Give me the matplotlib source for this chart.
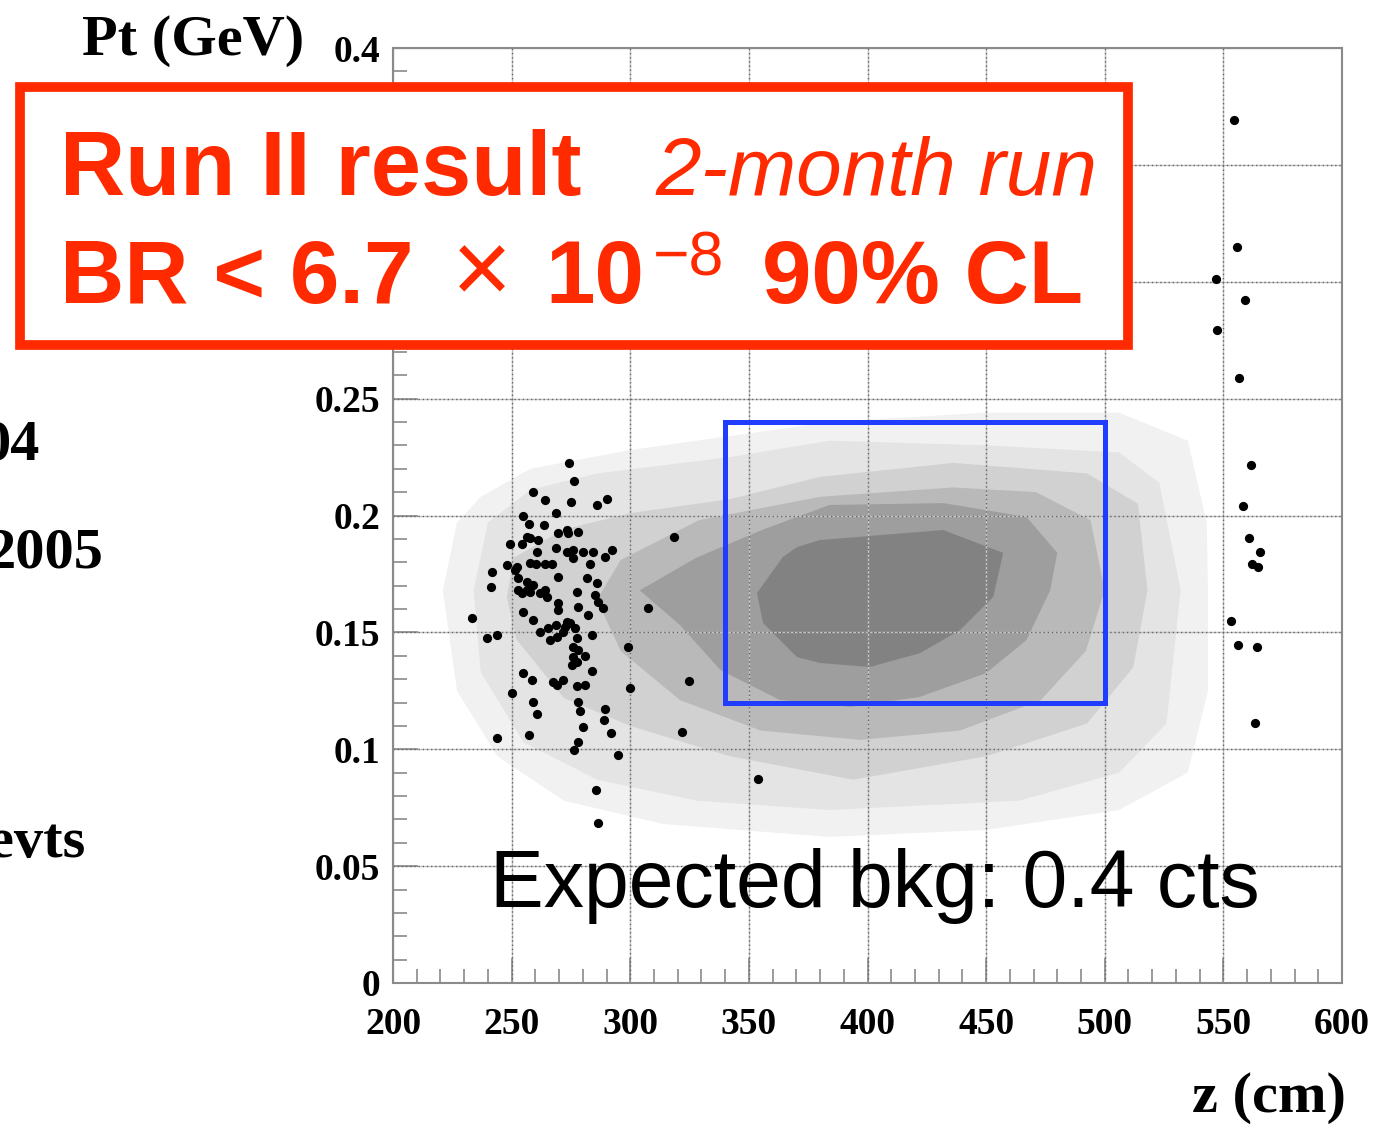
import matplotlib.pyplot as plt
from matplotlib.patches import Rectangle
from matplotlib.ticker import MultipleLocator

# ---- signal MC contours (outer -> inner) ----
shade_colors = ['#f1f1f1', '#e4e4e4', '#d1d1d1', '#b9b9b9', '#9e9e9e', '#828282']

c1_z = [221, 227, 237, 258, 300, 384, 450, 506, 535, 543, 543.5, 543.5, 535, 506, 450, 384, 314, 272, 244, 227]
c1_pt = [0.168, 0.197, 0.208, 0.220, 0.228, 0.240, 0.244, 0.244, 0.232, 0.197, 0.168, 0.125,
         0.090, 0.074, 0.0655, 0.0625, 0.068, 0.078, 0.097, 0.125]

c2_z = [234, 240, 258, 286, 342, 384, 450, 506, 523, 532, 526, 506, 464, 384, 328, 286, 255, 237]
c2_pt = [0.168, 0.197, 0.211, 0.218, 0.225, 0.232, 0.230, 0.227, 0.214, 0.168, 0.111, 0.090,
         0.078, 0.074, 0.078, 0.087, 0.103, 0.133]

c3_z = [248, 251, 272, 300, 342, 380, 436, 492.5, 514, 518, 512, 492.5, 450, 394, 342, 300, 272, 252]
c3_pt = [0.165, 0.182, 0.194, 0.201, 0.207, 0.2165, 0.2225, 0.218, 0.205, 0.168, 0.135, 0.111,
         0.097, 0.087, 0.097, 0.110, 0.122, 0.147]

c4_z = [286, 296, 329, 380, 436, 471, 494, 500, 492, 473, 439, 397, 355, 321, 296]
c4_pt = [0.164, 0.181, 0.198, 0.208, 0.212, 0.210, 0.198, 0.168, 0.142, 0.121, 0.108, 0.104,
         0.108, 0.121, 0.142]

c5_z = [304, 328, 356, 384, 432, 467, 480, 477, 467, 450, 422, 393, 363, 338, 321]
c5_pt = [0.168, 0.182, 0.194, 0.2045, 0.2053, 0.1994, 0.184, 0.168, 0.1467, 0.1326, 0.1224,
         0.1181, 0.1211, 0.1339, 0.1531]

c6_z = [353.4, 364.3, 370.3, 380, 431.9, 457.2, 453, 439, 422.1, 401, 380, 370.3, 356]
c6_pt = [0.1668, 0.1822, 0.1865, 0.1895, 0.1938, 0.184, 0.1652, 0.151, 0.1411, 0.1352,
         0.1369, 0.1394, 0.154]

# ---- data events ----
evt_z = [274.3, 276.4, 259.2, 264.1, 274.9, 286.1, 290.1, 268.7, 254.7, 257.3, 263.7, 269.7,
         273.2, 278.1, 249.3, 254.2, 257.7, 261.3, 260.6, 268.7, 273.2, 276.0, 280.2, 284.4,
         292.2, 289.4, 276.0, 283.0, 247.9, 252.1, 260.3, 264.1, 266.9, 241.6, 241.3, 252.8,
         256.3, 259.2, 269.7, 252.8, 257.7, 262.0, 264.8, 281.6, 285.9, 277.4, 285.1, 286.6,
         288.7, 269.7, 269.7, 278.1, 282.3, 233.2, 254.9, 259.2, 262.0, 265.5, 268.7, 272.5,
         274.6, 276.7, 266.2, 269.0, 239.5, 243.7, 284.0, 299.2, 276.0, 276.0, 280.9, 277.4,
         275.3, 254.9, 258.5, 267.6, 271.8, 269.0, 277.4, 280.9, 284.0, 299.9, 250.0, 259.2,
         260.6, 278.1, 278.8, 289.4, 289.0, 291.8, 280.2, 243.7, 257.5, 278.1, 276.3, 294.7,
         285.4, 286.3, 307.6, 318.4, 324.8, 322.0, 353.7,
         254.2, 256.3, 264.1, 273.2, 271.8, 277.4, 278.1, 251.4, 257.7, 273.9, 256.3,
         554.5, 555.9, 546.9, 559.0, 547.5, 556.5, 561.5, 558.3, 561.0, 565.5, 562.2, 564.5,
         553.2, 556.0, 564.3, 563.5]
evt_pt = [0.2223, 0.2149, 0.2102, 0.2066, 0.2056, 0.2045, 0.2069, 0.2009, 0.1998, 0.1962,
          0.1961, 0.1927, 0.1938, 0.1931, 0.1877, 0.1878, 0.1902, 0.1895, 0.1843, 0.1860,
          0.1845, 0.1853, 0.1843, 0.1843, 0.1853, 0.1824, 0.1817, 0.1793, 0.1788, 0.1781,
          0.1793, 0.1793, 0.1793, 0.1760, 0.1696, 0.1731, 0.1717, 0.1703, 0.1738, 0.1681,
          0.1674, 0.1667, 0.1653, 0.1731, 0.1713, 0.1674, 0.1660, 0.1631, 0.1603, 0.1624,
          0.1596, 0.1610, 0.1574, 0.1560, 0.1589, 0.1553, 0.1503, 0.1517, 0.1532, 0.1525,
          0.1539, 0.1517, 0.1467, 0.1482, 0.1475, 0.1489, 0.1489, 0.1439, 0.1439, 0.1396,
          0.1399, 0.1375, 0.1361, 0.1328, 0.1296, 0.1289, 0.1296, 0.1275, 0.1271, 0.1275,
          0.1335, 0.1261, 0.1242, 0.1204, 0.1151, 0.1204, 0.1165, 0.1171, 0.1125, 0.1068,
          0.1097, 0.1050, 0.1061, 0.1033, 0.0997, 0.0976, 0.0826, 0.0686, 0.1603, 0.1910,
          0.1293, 0.1073, 0.0873,
          0.1667, 0.1681, 0.1681, 0.1546, 0.1503, 0.1475, 0.1425, 0.1767, 0.1796, 0.1924, 0.1910,
          0.3693, 0.3148, 0.3011, 0.2920, 0.2795, 0.2589, 0.2218, 0.2039, 0.1905, 0.1845,
          0.1791, 0.1780, 0.1550, 0.1446, 0.1437, 0.1113]

# signal box
box_z = [340, 500]
box_pt = [0.12, 0.24]

xticks = [200, 250, 300, 350, 400, 450, 500, 550, 600]
yticks = [0, 0.05, 0.1, 0.15, 0.2, 0.25, 0.3, 0.35, 0.4]
# 0.3 and 0.35 sit under the red result box in the original
ytick_labels = ['0', '0.05', '0.1', '0.15', '0.2', '0.25', '', '', '0.4']

W, H = 1385, 1124
fig = plt.figure(figsize=(W / 100, H / 100), dpi=100)
ax = fig.add_axes([393 / W, 1 - 983 / H, (1342 - 393) / W, (983 - 48) / H])

contours = [(c1_z, c1_pt), (c2_z, c2_pt), (c3_z, c3_pt), (c4_z, c4_pt), (c5_z, c5_pt), (c6_z, c6_pt)]
for (cz, cp), col in zip(contours, shade_colors):
    ax.fill(cz, cp, color=col, lw=0, zorder=1)

ax.scatter(evt_z, evt_pt, s=44, c='black', lw=0, zorder=4)

ax.add_patch(Rectangle((box_z[0], box_pt[0]), box_z[1] - box_z[0], box_pt[1] - box_pt[0],
                       fill=False, edgecolor='#1f3cff', lw=3.6, zorder=5))

ax.set_xlim(200, 600)
ax.set_ylim(0, 0.4)
ax.set_xticks(xticks)
ax.set_xticklabels([str(t) for t in xticks])
ax.set_yticks(yticks)
ax.set_yticklabels(ytick_labels)
ax.xaxis.set_minor_locator(MultipleLocator(10))
ax.yaxis.set_minor_locator(MultipleLocator(0.01))

ax.grid(True, which='major', color='#c4c4c4', lw=1.0, zorder=1.5)
for t in xticks[1:-1]:
    ax.axvline(t, color='#666666', lw=1.0, ls=(0, (1, 2)), zorder=1.6)
for t in yticks[1:-1]:
    ax.axhline(t, color='#666666', lw=1.0, ls=(0, (1, 2)), zorder=1.6)

for sp in ax.spines.values():
    sp.set_color('#8a8a8a')
    sp.set_linewidth(1.5)
ax.tick_params(which='both', direction='in', color='#8a8a8a', width=1.2)
ax.tick_params(which='major', length=18)
ax.tick_params(which='minor', length=10)
ax.tick_params(axis='x', pad=17)
ax.tick_params(axis='y', pad=9)
for lab in ax.get_xticklabels() + ax.get_yticklabels():
    lab.set_fontfamily('Liberation Serif')
    lab.set_fontweight('bold')
    lab.set_fontsize(27)

serif = dict(family='Liberation Serif', weight='bold', fontsize=42, color='black')
fig.text(82 / W, 1 - 55 / H, 'Pt (GeV)', ha='left', va='baseline', **serif)
fig.text(1192 / W, 1 - 1112 / H, 'z (cm)', ha='left', va='baseline', **serif)
# slide text that is cut by the left edge of the picture
fig.text(40 / W, 1 - 460 / H, '04', ha='right', va='baseline', **serif)
fig.text(103 / W, 1 - 567 / H, '2005', ha='right', va='baseline', **serif)
fig.text(85 / W, 1 - 857 / H, 'evts', ha='right', va='baseline', **serif)

# red result box
red = '#ff2a00'
sans = 'Liberation Sans'
fig.add_artist(Rectangle((20 / W, 1 - 345 / H), (1128 - 20) / W, (345 - 87) / H,
                         transform=fig.transFigure, facecolor='white', edgecolor=red,
                         lw=7, zorder=10))
red_txt = dict(family=sans, color=red, ha='left', va='baseline', zorder=11)
fig.text(60 / W, 1 - 195 / H, 'Run II result', weight='bold', fontsize=65, **red_txt)
fig.text(655 / W, 1 - 195 / H, '2-month run', style='italic', fontsize=59, **red_txt)
fig.text(60 / W, 1 - 303 / H, 'BR < 6.7', weight='bold', fontsize=64, **red_txt)
fig.text(452 / W, 1 - 303 / H, '\u00d7', weight='normal', fontsize=74, **red_txt)
fig.text(545 / W, 1 - 303 / H, '10', weight='bold', fontsize=64, **red_txt)
fig.text(653 / W, 1 - 276 / H, '\u22128', weight='normal', fontsize=45, **red_txt)
fig.text(762 / W, 1 - 303 / H, '90% CL', weight='bold', fontsize=64, **red_txt)

fig.text(490 / W, 1 - 907 / H, 'Expected bkg: 0.4 cts', ha='left', va='baseline', family=sans,
         fontsize=58, color='black', zorder=6)

fig.savefig('out.png', dpi=100)
